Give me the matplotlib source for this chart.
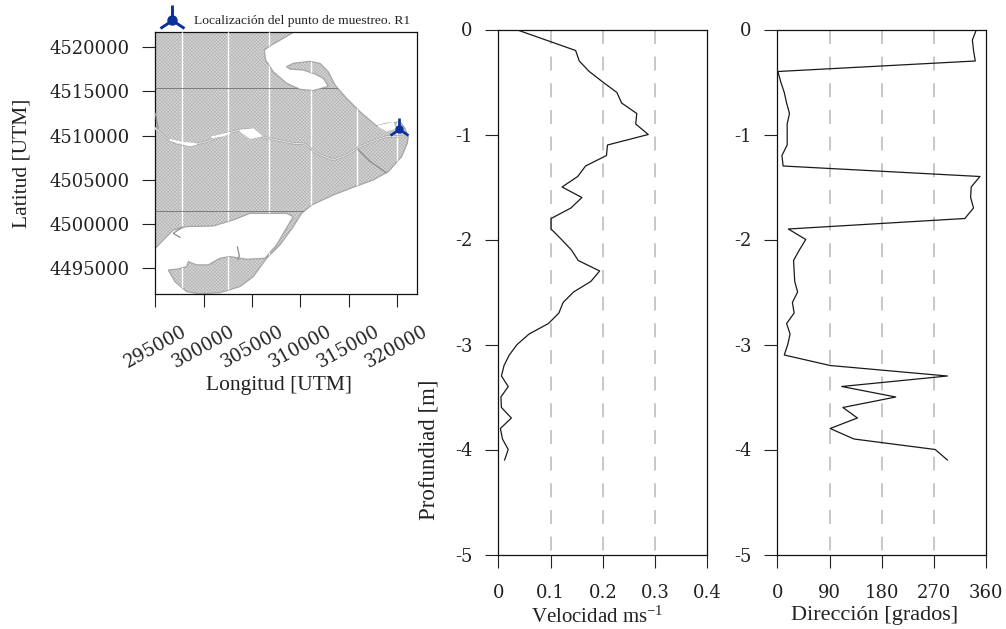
import matplotlib
matplotlib.use("Agg")
import matplotlib.pyplot as plt
from matplotlib.patches import Polygon

plt.rcParams["font.family"] = ["Liberation Serif", "DejaVu Serif"]
plt.rcParams["mathtext.default"] = "regular"
plt.rcParams["lines.scale_dashes"] = False
plt.rcParams["hatch.linewidth"] = 0.4

# profiles, one reading every 0.1 m
depth = [-0.0, -0.1, -0.2, -0.3, -0.4, -0.5, -0.6, -0.7, -0.8, -0.9, -1.0, -1.1, -1.2, -1.3,
         -1.4, -1.5, -1.6, -1.7, -1.8, -1.9, -2.0, -2.1, -2.2, -2.3, -2.4, -2.5, -2.6, -2.7,
         -2.8, -2.9, -3.0, -3.1, -3.2, -3.3, -3.4, -3.5, -3.6, -3.7, -3.8, -3.9, -4.0, -4.1]
velocidad = [0.034, 0.091, 0.148, 0.155, 0.174, 0.200, 0.227, 0.236, 0.265, 0.263, 0.287, 0.209, 0.207, 0.167,
             0.152, 0.122, 0.160, 0.139, 0.101, 0.101, 0.121, 0.140, 0.153, 0.194, 0.177, 0.144, 0.124, 0.116,
             0.096, 0.059, 0.036, 0.021, 0.011, 0.006, 0.019, 0.005, 0.006, 0.025, 0.004, 0.008, 0.019, 0.012]
direccion = [343, 336, 338, 341, 1, 6, 12, 16, 21, 17, 17, 17, 8, 10,
             349, 334, 333, 338, 323, 19, 49, 38, 28, 29, 30, 35, 26, 29,
             16, 22, 18, 12, 91, 293, 111, 204, 113, 138, 91, 132, 272, 293]

costa_lon = [295000, 309280, 308250, 307040, 306280, 306420, 307210, 308590, 309970, 311350, 312560, 312900,
             312390, 311530, 310320, 308940, 308590, 309280, 311000, 312040, 312900, 313600, 314800, 316180,
             317900, 318940, 319800, 320320, 320840, 321185, 321080, 320495, 319115, 317560, 315840, 313420,
             311180, 310145, 309280, 307900, 306520, 305140, 303760, 301690, 299620, 298240, 297035, 296345,
             297210, 298240, 298410, 299280, 300490, 301690, 302730, 304450, 306350, 307560, 309280, 308590,
             306520, 304800, 303070, 301000, 298240, 296860, 296170, 295000]
costa_lat = [4521660, 4521660, 4520980, 4520230, 4519660, 4518530, 4517210, 4515900, 4515220, 4515070, 4515440, 4515600,
             4516460, 4516950, 4517400, 4517510, 4517780, 4518150, 4518380, 4518150, 4517210, 4515710, 4514200, 4512700,
             4511080, 4511380, 4511450, 4511570, 4510810, 4509870, 4509120, 4507610, 4505920, 4504980, 4504300, 4503280,
             4502150, 4501210, 4499705, 4497640, 4496130, 4494060, 4492930, 4492250, 4492100, 4492365, 4493490, 4494810,
             4494890, 4495190, 4495750, 4495380, 4495380, 4496130, 4496320, 4496020, 4496130, 4497640, 4500840, 4501210,
             4501210, 4501210, 4500460, 4499780, 4499710, 4499330, 4498580, 4497260]

# Ebro channel through the delta
canal_lon = [295000, 296170, 297210, 298590, 300310, 302380, 303760, 305140, 306000, 307560, 309280, 310490,
             311700, 313420, 314800, 316180, 317900, 318940, 321010]
canal_lat = [4510810, 4509680, 4509120, 4508850, 4509310, 4510250, 4510630, 4510700, 4509870, 4509500, 4509120, 4509040,
             4507990, 4507240, 4507800, 4508740, 4509500, 4509870, 4509950]

# places where the channel opens up, plus the lagoon by the point
abiertos_lon = [[303760, 305140, 306000, 304800], [296520, 298590, 299280, 297550], [300830, 302730, 302040],
                [318080, 319630, 319800, 318940]]
abiertos_lat = [[4510550, 4510740, 4509950, 4509700], [4509500, 4508850, 4509040, 4509240], [4509800, 4510320, 4509980],
                [4511080, 4511450, 4510810, 4510550]]

# seams left by the map tiles
corte_lon = [297800, 302560, 306800, 311080, 315840, 320050]
corte_lat = [4515330, 4501440]

# small drains
dren_lon = [[316000, 317200, 318900], [303550, 303700, 303500], [297550, 296860, 297800], [295000, 295300]]
dren_lat = [[4508400, 4507100, 4505800], [4496000, 4496400, 4497400], [4498500, 4498950, 4499650], [4512500, 4510800]]

punto_lon = 320220
punto_lat = 4510700
leyenda_lon = 296730
leyenda_lat = 4523050

lon_ticks = [295000, 300000, 305000, 310000, 315000, 320000]
lat_ticks = [4495000, 4500000, 4505000, 4510000, 4515000, 4520000]
prof_ticks = [0, -1, -2, -3, -4, -5]
vel_ticks = [0, 0.1, 0.2, 0.3, 0.4]
vel_labels = ["0", "0.1", "0.2", "0.3", "0.4"]
dir_ticks = [0, 90, 180, 270, 360]

azul = "#0b2f9c"
tinta = "#222222"
W, H = 1006, 629


def add_ax(left, top, right, bottom):
    return fig.add_axes([left / W, 1 - bottom / H, (right - left) / W, (bottom - top) / H])


def style_axis(ax, size=13):
    ax.tick_params(length=9.4, width=0.8, labelsize=size, color=tinta, labelcolor=tinta,
                   labelfontfamily="DejaVu Serif")
    ax.tick_params(axis="y", pad=9)
    ax.tick_params(axis="x", pad=12)
    for s in ax.spines.values():
        s.set_linewidth(0.9)
        s.set_color("#111111")


fig = plt.figure(figsize=(W / 100, H / 100), dpi=100, facecolor="white")

# map
ax_map = add_ax(155.3, 32.3, 416.7, 294.3)
costa = list(zip(costa_lon, costa_lat))
# hatch takes the edge colour, so the darker outline is a patch of its own
tierra = Polygon(costa, closed=True, facecolor="#d8d8d8", edgecolor="#b0b0b0",
                 hatch="xxxxxxxxxx", linewidth=0, zorder=2)
ax_map.add_patch(tierra)
ax_map.add_patch(Polygon(costa, closed=True, fill=False, edgecolor="#a5a5a5", linewidth=0.9, zorder=2.5))
l = ax_map.vlines(corte_lon, 4492000, 4522000, color="white", linewidth=1.0, zorder=3)
l.set_clip_path(tierra)
l = ax_map.hlines(corte_lat, 295000, 322000, color="#707070", linewidth=0.6, zorder=3)
l.set_clip_path(tierra)
ax_map.plot(canal_lon, canal_lat, color="#a0a0a0", linewidth=1.6, zorder=4)
ax_map.plot(canal_lon, canal_lat, color="#e8e8e8", linewidth=0.7, zorder=5)
for al, at in zip(abiertos_lon, abiertos_lat):
    ax_map.fill(al, at, color="white", zorder=5)
for dl, dt in zip(dren_lon, dren_lat):
    ax_map.plot(dl, dt, color="#8c8c8c", linewidth=0.9, zorder=4)
ax_map.plot(punto_lon, punto_lat, marker="2", color=azul, markersize=16, markeredgewidth=1.9, zorder=7)
ax_map.plot(punto_lon, punto_lat, marker="o", color=azul, markersize=5, zorder=7)
ax_map.plot(leyenda_lon, leyenda_lat, marker="2", color=azul, markersize=22, markeredgewidth=2.1, clip_on=False)
ax_map.plot(leyenda_lon, leyenda_lat, marker="o", color=azul, markersize=6.5, clip_on=False)
ax_map.text(0.149, 1.045, "Localización del punto de muestreo. R1", transform=ax_map.transAxes,
            fontsize=9.7, va="center", ha="left", color=tinta)
ax_map.set_xlim(295000, 322060)
ax_map.set_ylim(4492060, 4521660)
ax_map.set_xticks(lon_ticks)
ax_map.set_yticks(lat_ticks)
ax_map.ticklabel_format(useOffset=False, style="plain")
style_axis(ax_map)
ax_map.tick_params(axis="x", pad=11)
plt.setp(ax_map.get_xticklabels(), rotation=29, ha="center", rotation_mode="default")
ax_map.set_xlabel("Longitud [UTM]", fontsize=15.5, color=tinta, va="top")
ax_map.xaxis.set_label_coords(0.475, -0.312)
ax_map.set_ylabel("Latitud [UTM]", fontsize=15.5, color=tinta)
ax_map.yaxis.set_label_coords(-0.472, 0.5)

# velocity and direction profiles
ax_vel = add_ax(498.3, 29.5, 707.3, 554.5)
ax_dir = add_ax(777.3, 29.5, 986.3, 554.5)
rejilla = (16, (10, 9.2))
ax_vel.vlines(vel_ticks[1:4], -5, 0, color="#bdbdbd", linewidth=1.2, linestyles=rejilla, zorder=1)
ax_dir.vlines(dir_ticks[1:4], -5, 0, color="#bdbdbd", linewidth=1.2, linestyles=rejilla, zorder=1)
ax_vel.plot(velocidad, depth, color="#1a1a1a", linewidth=0.9, zorder=3)
ax_dir.plot(direccion, depth, color="#1a1a1a", linewidth=0.9, zorder=3)

ax_vel.set_xlim(0, 0.4)
ax_dir.set_xlim(0, 360)
for ax in (ax_vel, ax_dir):
    ax.set_ylim(-5, 0)
    ax.set_yticks(prof_ticks)
    ax.set_yticklabels([str(p) if p == 0 else "-" + str(abs(p)) for p in prof_ticks])
    style_axis(ax)
ax_vel.set_xticks(vel_ticks)
ax_vel.set_xticklabels(vel_labels)
ax_dir.set_xticks(dir_ticks)
ax_dir.set_xticklabels([str(d) for d in dir_ticks])
ax_vel.set_xlabel("Velocidad ms$^{-1}$", fontsize=15, color=tinta, va="top")
ax_vel.xaxis.set_label_coords(0.475, -0.099)
ax_dir.set_xlabel("Dirección [grados]", fontsize=16, color=tinta, va="top")
ax_dir.xaxis.set_label_coords(0.465, -0.099)
ax_vel.set_ylabel("Profundiad [m]", fontsize=16.5, color=tinta)
ax_vel.yaxis.set_label_coords(-0.283, 0.199)

fig.savefig("out.png", dpi=100, facecolor="white")
